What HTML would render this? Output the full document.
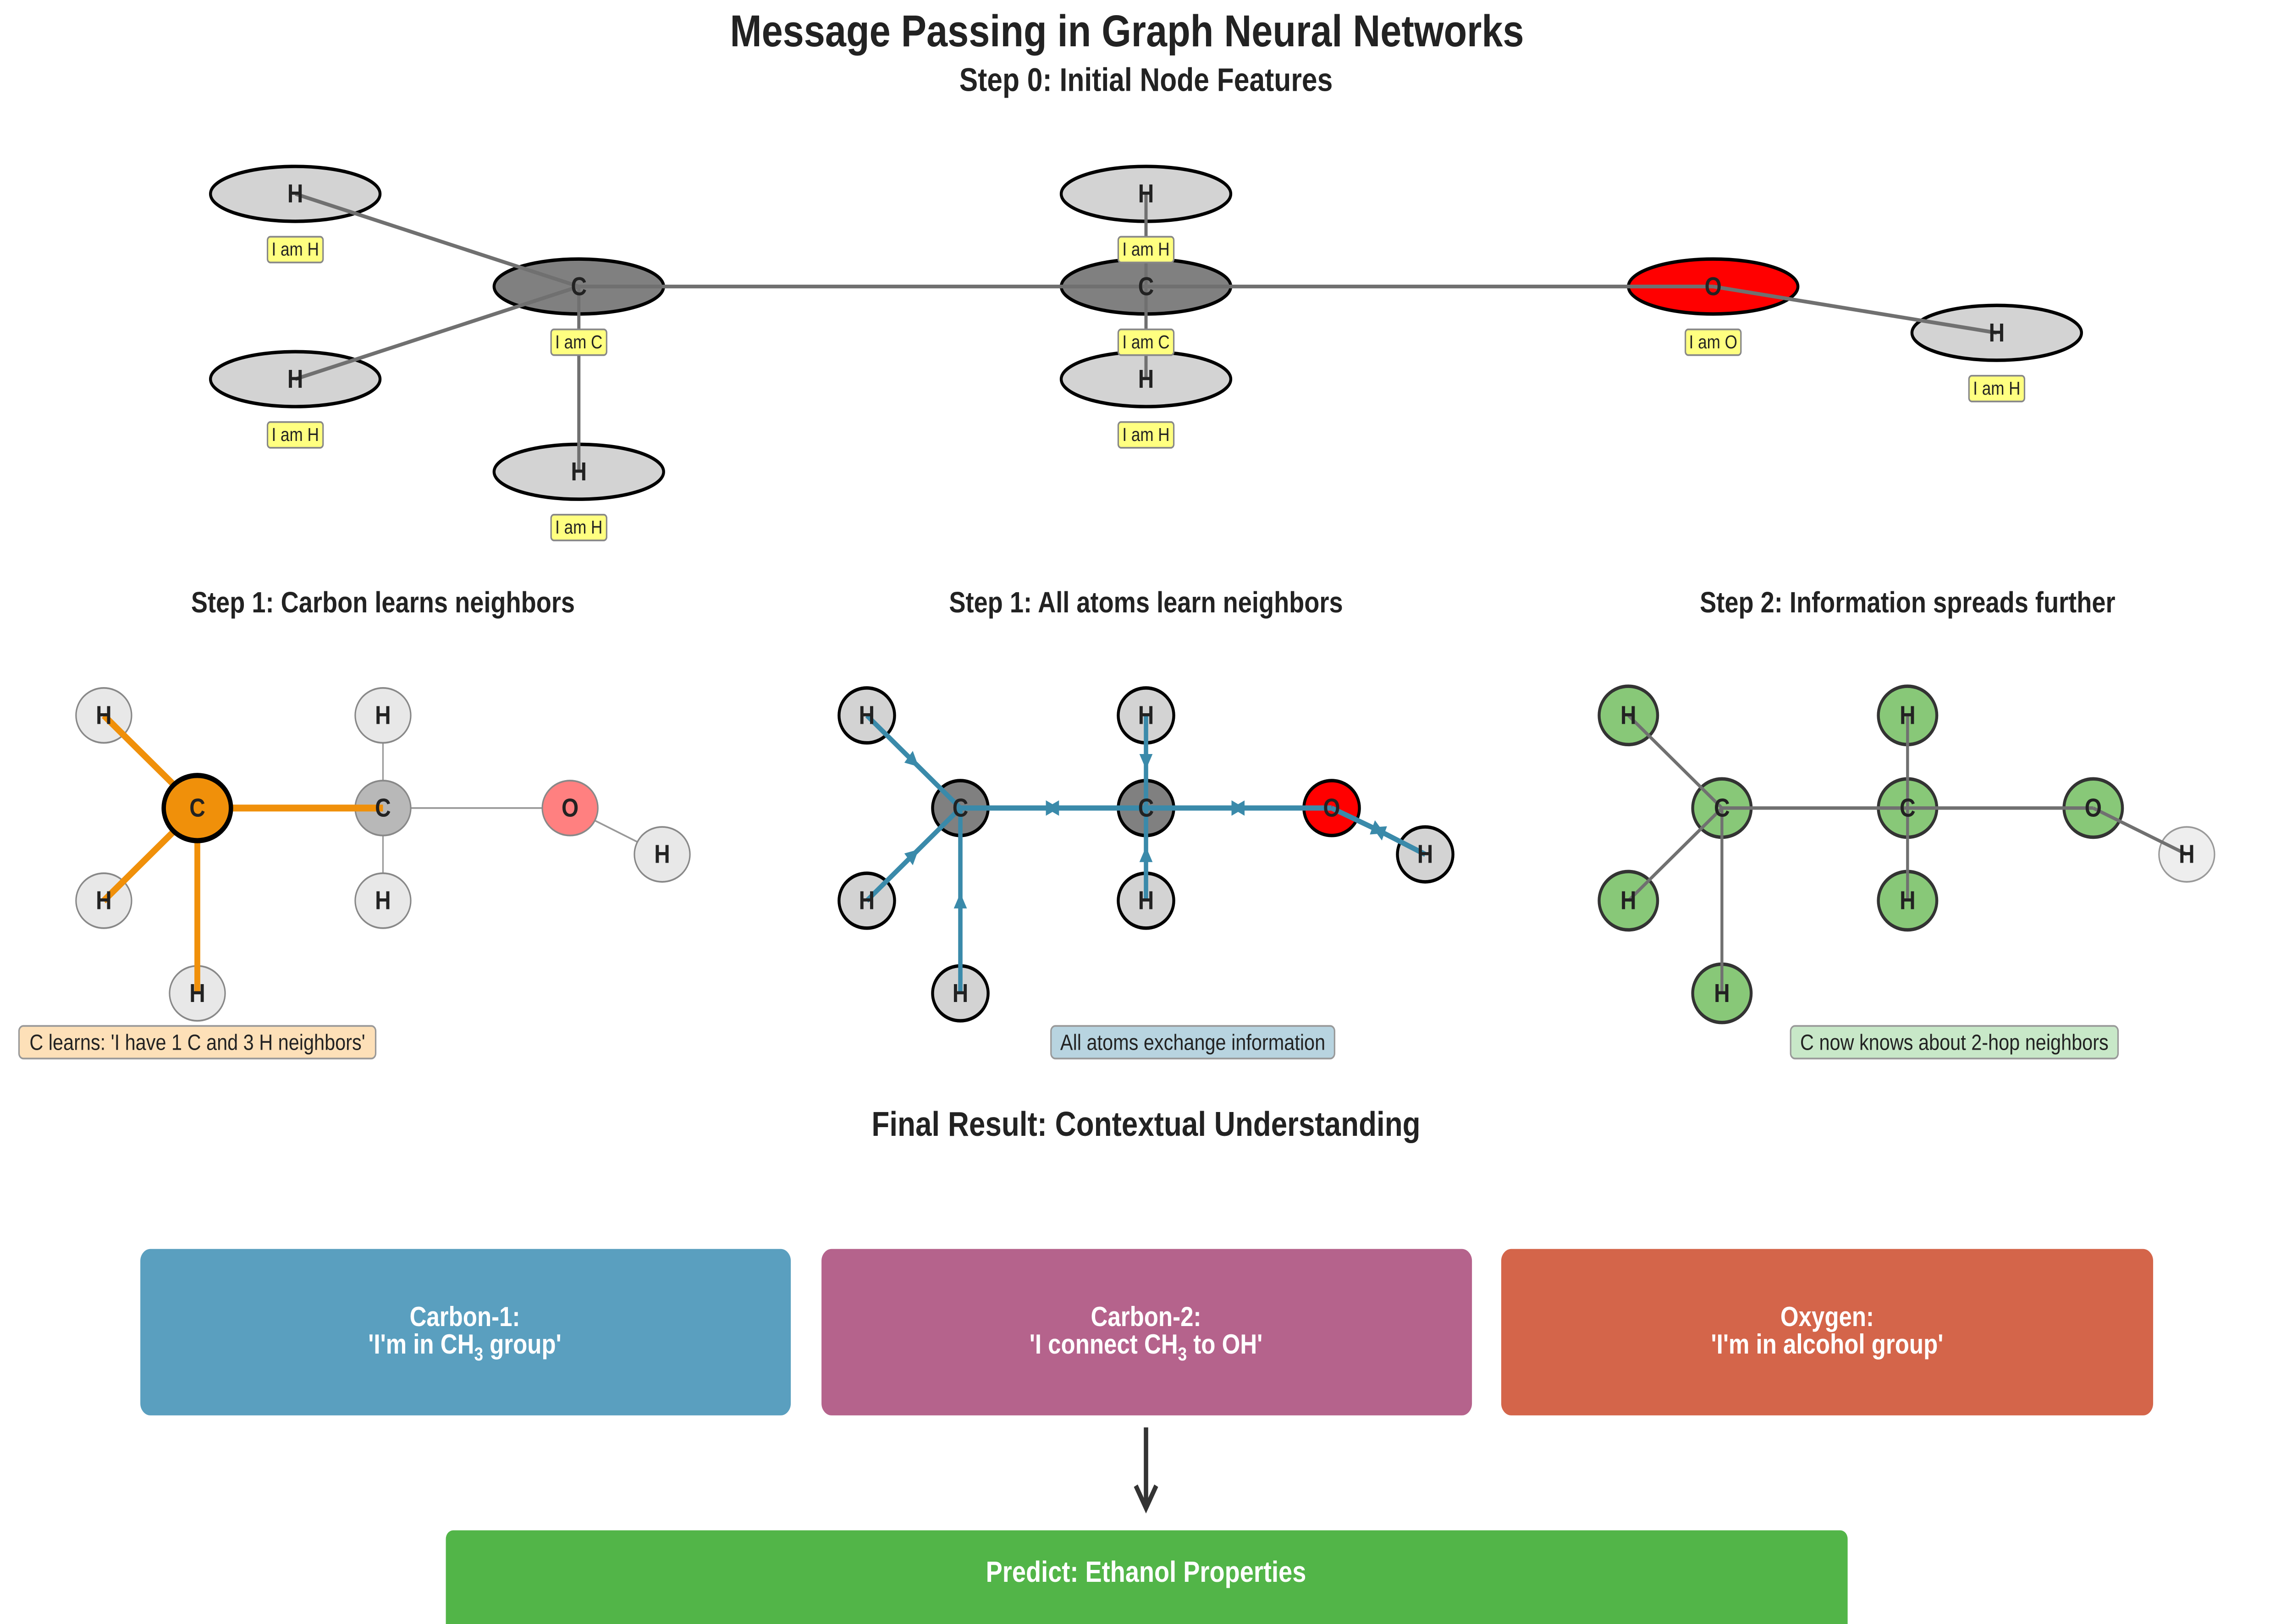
<!DOCTYPE html>
<html><head><meta charset="utf-8"><style>
html,body{margin:0;padding:0;background:#fff;width:100vw;height:100vh;overflow:hidden;}
svg{display:block;width:100vw;height:100vh;}
text{font-family:"Liberation Sans",sans-serif;}
</style></head><body>
<svg viewBox="0 0 1568 946.6" preserveAspectRatio="none" xmlns="http://www.w3.org/2000/svg">
<defs>
<marker id="ar" viewBox="0 0 10 10" refX="5" refY="5" markerWidth="3" markerHeight="3" orient="auto"><path d="M0,0 L10,5 L0,10 z" fill="#3a8aaa"/></marker>
</defs>
<rect width="1568" height="946.6" fill="#fff"/>
<text x="771" y="27" font-size="26" font-weight="bold" text-anchor="middle" fill="#222">Message Passing in Graph Neural Networks</text>
<text x="784" y="53" font-size="19" font-weight="bold" text-anchor="middle" fill="#222">Step 0: Initial Node Features</text>

<g stroke="#000" stroke-width="2">
<ellipse cx="202" cy="113" rx="58" ry="16" fill="#d3d3d3"/>
<ellipse cx="396" cy="167" rx="58" ry="16" fill="#808080"/>
<ellipse cx="202" cy="221" rx="58" ry="16" fill="#d3d3d3"/>
<ellipse cx="396" cy="275" rx="58" ry="16" fill="#d3d3d3"/>
<ellipse cx="784" cy="113" rx="58" ry="16" fill="#d3d3d3"/>
<ellipse cx="784" cy="167" rx="58" ry="16" fill="#808080"/>
<ellipse cx="784" cy="221" rx="58" ry="16" fill="#d3d3d3"/>
<ellipse cx="1172" cy="167" rx="58" ry="16" fill="#ff0000"/>
<ellipse cx="1366" cy="194" rx="58" ry="16" fill="#d3d3d3"/>
</g>
<g stroke="#707070" stroke-width="2.2">
<line x1="202" y1="113" x2="396" y2="167"/><line x1="202" y1="221" x2="396" y2="167"/>
<line x1="396" y1="275" x2="396" y2="167"/><line x1="396" y1="167" x2="784" y2="167"/>
<line x1="784" y1="113" x2="784" y2="221"/><line x1="784" y1="167" x2="1172" y2="167"/>
<line x1="1172" y1="167" x2="1366" y2="194"/>
</g>
<g font-size="15" font-weight="bold" fill="#222" text-anchor="middle">
<text x="202" y="118">H</text><text x="396" y="172">C</text><text x="202" y="226">H</text><text x="396" y="280">H</text>
<text x="784" y="118">H</text><text x="784" y="172">C</text><text x="784" y="226">H</text><text x="1172" y="172">O</text><text x="1366" y="199">H</text>
</g>
<g font-size="11" fill="#222" text-anchor="middle">
<g fill="#ffff80" stroke="#888" stroke-width="1">
<rect x="183" y="138" width="38" height="15" rx="2"/><rect x="377" y="192" width="38" height="15" rx="2"/>
<rect x="183" y="246" width="38" height="15" rx="2"/><rect x="377" y="300" width="38" height="15" rx="2"/>
<rect x="765" y="138" width="38" height="15" rx="2"/><rect x="765" y="192" width="38" height="15" rx="2"/>
<rect x="765" y="246" width="38" height="15" rx="2"/><rect x="1153" y="192" width="38" height="15" rx="2"/>
<rect x="1347" y="219" width="38" height="15" rx="2"/>
</g>
<text x="202" y="149">I am H</text><text x="396" y="203">I am C</text><text x="202" y="257">I am H</text><text x="396" y="311">I am H</text>
<text x="784" y="149">I am H</text><text x="784" y="203">I am C</text><text x="784" y="257">I am H</text><text x="1172" y="203">I am O</text><text x="1366" y="230">I am H</text>
</g>

<g font-size="17" font-weight="bold" fill="#222" text-anchor="middle">
<text x="262" y="357">Step 1: Carbon learns neighbors</text>
<text x="784" y="357">Step 1: All atoms learn neighbors</text>
<text x="1305" y="357">Step 2: Information spreads further</text>
</g>

<g stroke="#999" stroke-width="1">
<line x1="262" y1="417" x2="262" y2="525"/><line x1="262" y1="471" x2="390" y2="471"/><line x1="390" y1="471" x2="453" y2="498"/>
</g>
<g stroke="#888" stroke-width="1">
<ellipse cx="71" cy="417" rx="19" ry="16" fill="#e8e8e8"/><ellipse cx="71" cy="525" rx="19" ry="16" fill="#e8e8e8"/>
<ellipse cx="135" cy="579" rx="19" ry="16" fill="#e8e8e8"/><ellipse cx="262" cy="471" rx="19" ry="16" fill="#b8b8b8"/>
<ellipse cx="262" cy="417" rx="19" ry="16" fill="#e8e8e8"/><ellipse cx="262" cy="525" rx="19" ry="16" fill="#e8e8e8"/>
<ellipse cx="390" cy="471" rx="19" ry="16" fill="#ff8080"/><ellipse cx="453" cy="498" rx="19" ry="16" fill="#e8e8e8"/>
</g>
<g stroke="#f0900a" stroke-width="4">
<line x1="71" y1="417" x2="135" y2="471"/><line x1="71" y1="525" x2="135" y2="471"/><line x1="135" y1="579" x2="135" y2="471"/><line x1="135" y1="471" x2="262" y2="471"/>
</g>
<ellipse cx="135" cy="471" rx="23" ry="19" fill="#f0900a" stroke="#000" stroke-width="3"/>
<g font-size="15" font-weight="bold" fill="#222" text-anchor="middle">
<text x="71" y="422">H</text><text x="135" y="476">C</text><text x="71" y="530">H</text><text x="135" y="584">H</text><text x="262" y="476">C</text><text x="262" y="422">H</text><text x="262" y="530">H</text><text x="390" y="476">O</text><text x="453" y="503">H</text>
</g>
<rect x="13" y="598" width="244" height="19" rx="3" fill="#fde0b8" stroke="#999"/>
<text x="135" y="612" font-size="13" text-anchor="middle" fill="#222">C learns: 'I have 1 C and 3 H neighbors'</text>

<g stroke="#000" stroke-width="2">
<ellipse cx="593" cy="417" rx="19" ry="16" fill="#d3d3d3"/><ellipse cx="593" cy="525" rx="19" ry="16" fill="#d3d3d3"/>
<ellipse cx="657" cy="579" rx="19" ry="16" fill="#d3d3d3"/><ellipse cx="657" cy="471" rx="19" ry="16" fill="#808080"/>
<ellipse cx="784" cy="471" rx="19" ry="16" fill="#808080"/><ellipse cx="784" cy="417" rx="19" ry="16" fill="#d3d3d3"/>
<ellipse cx="784" cy="525" rx="19" ry="16" fill="#d3d3d3"/><ellipse cx="911" cy="471" rx="19" ry="16" fill="#ff0000"/>
<ellipse cx="975" cy="498" rx="19" ry="16" fill="#d3d3d3"/>
</g>
<g stroke="#3a8aaa" stroke-width="3" marker-mid="url(#ar)" fill="none">
<polyline points="593,417 625,444 657,471"/><polyline points="593,525 625,498 657,471"/><polyline points="657,579 657,525 657,471"/>
<polyline points="657,471 720,471 784,471"/><polyline points="784,471 720,471 657,471"/>
<polyline points="784,417 784,444 784,471"/><polyline points="784,525 784,498 784,471"/>
<polyline points="911,471 847,471 784,471"/><polyline points="784,471 847,471 911,471"/>
<polyline points="975,498 943,484 911,471"/><polyline points="911,471 943,484 975,498"/>
</g>
<g font-size="15" font-weight="bold" fill="#222" text-anchor="middle">
<text x="593" y="422">H</text><text x="657" y="476">C</text><text x="593" y="530">H</text><text x="657" y="584">H</text><text x="784" y="476">C</text><text x="784" y="422">H</text><text x="784" y="530">H</text><text x="911" y="476">O</text><text x="975" y="503">H</text>
</g>
<rect x="719" y="598" width="194" height="19" rx="3" fill="#b8d4e0" stroke="#999"/>
<text x="816" y="612" font-size="13" text-anchor="middle" fill="#222">All atoms exchange information</text>

<g stroke="#333" stroke-width="2">
<ellipse cx="1114" cy="417" rx="20" ry="17" fill="#88c878"/><ellipse cx="1114" cy="525" rx="20" ry="17" fill="#88c878"/>
<ellipse cx="1178" cy="579" rx="20" ry="17" fill="#88c878"/><ellipse cx="1178" cy="471" rx="20" ry="17" fill="#88c878"/>
<ellipse cx="1305" cy="471" rx="20" ry="17" fill="#88c878"/><ellipse cx="1305" cy="417" rx="20" ry="17" fill="#88c878"/>
<ellipse cx="1305" cy="525" rx="20" ry="17" fill="#88c878"/><ellipse cx="1432" cy="471" rx="20" ry="17" fill="#88c878"/>
</g>
<ellipse cx="1496" cy="498" rx="19" ry="16" fill="#eee" stroke="#999" stroke-width="1"/>
<g stroke="#707070" stroke-width="2">
<line x1="1114" y1="417" x2="1178" y2="471"/><line x1="1114" y1="525" x2="1178" y2="471"/><line x1="1178" y1="579" x2="1178" y2="471"/>
<line x1="1178" y1="471" x2="1432" y2="471"/><line x1="1305" y1="417" x2="1305" y2="525"/><line x1="1432" y1="471" x2="1496" y2="498"/>
</g>
<g font-size="15" font-weight="bold" fill="#222" text-anchor="middle">
<text x="1114" y="422">H</text><text x="1178" y="476">C</text><text x="1114" y="530">H</text><text x="1178" y="584">H</text><text x="1305" y="476">C</text><text x="1305" y="422">H</text><text x="1305" y="530">H</text><text x="1432" y="476">O</text><text x="1496" y="503">H</text>
</g>
<rect x="1225" y="598" width="224" height="19" rx="3" fill="#c8e8c8" stroke="#999"/>
<text x="1337" y="612" font-size="13" text-anchor="middle" fill="#222">C now knows about 2-hop neighbors</text>

<text x="784" y="662" font-size="20" font-weight="bold" text-anchor="middle" fill="#222">Final Result: Contextual Understanding</text>
<g stroke="#fff" stroke-width="2">
<rect x="95" y="727" width="447" height="99" rx="8" fill="#5a9fbf"/>
<rect x="561" y="727" width="447" height="99" rx="8" fill="#b5638c"/>
<rect x="1026" y="727" width="448" height="99" rx="8" fill="#d4654a"/>
</g>
<g font-size="16" font-weight="bold" fill="#fff" text-anchor="middle">
<text x="318" y="773">Carbon-1:</text><text x="318" y="789">'I'm in CH<tspan font-size="11" dy="4">3</tspan><tspan dy="-4"> group'</tspan></text>
<text x="784" y="773">Carbon-2:</text><text x="784" y="789">'I connect CH<tspan font-size="11" dy="4">3</tspan><tspan dy="-4"> to OH'</tspan></text>
<text x="1250" y="773">Oxygen:</text><text x="1250" y="789">'I'm in alcohol group'</text>
</g>
<g stroke="#333" stroke-width="3" fill="none">
<line x1="784" y1="832" x2="784" y2="878"/><polyline points="777,866 784,879 791,866"/>
</g>
<rect x="305" y="892" width="959" height="60" rx="5" fill="#52b548"/>
<text x="784" y="922" font-size="17" font-weight="bold" text-anchor="middle" fill="#fff">Predict: Ethanol Properties</text>
</svg>
</body></html>
